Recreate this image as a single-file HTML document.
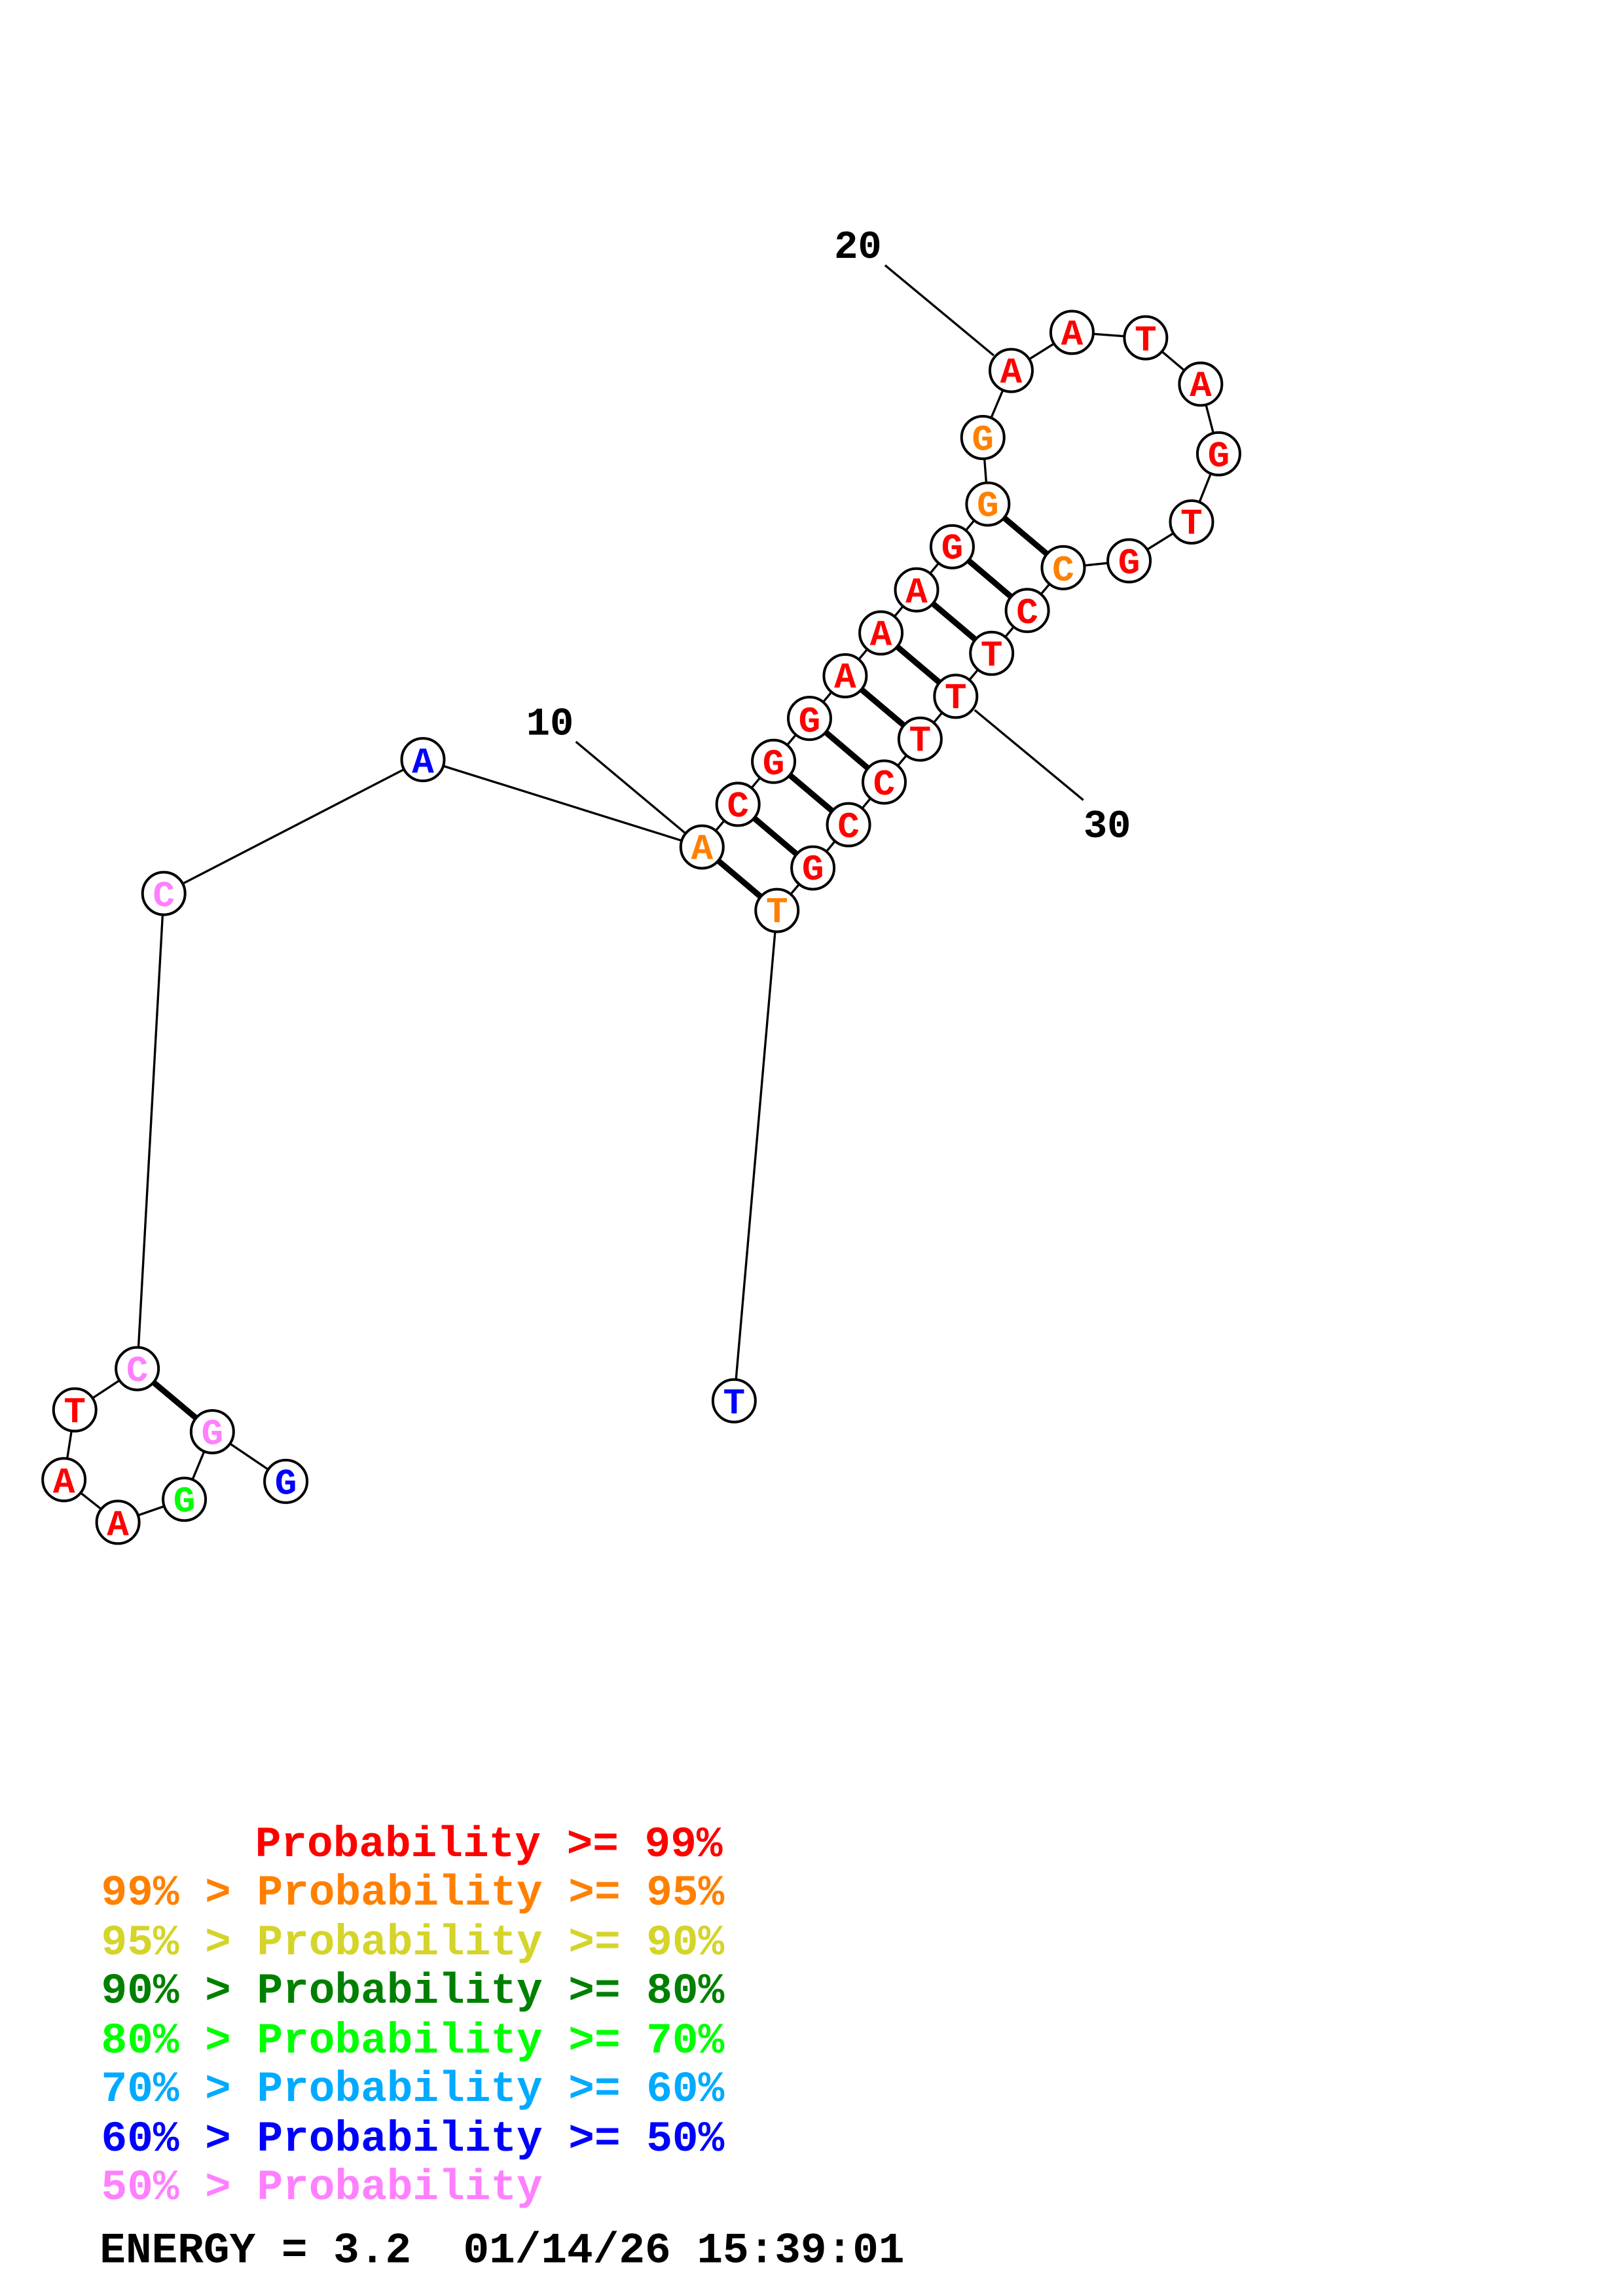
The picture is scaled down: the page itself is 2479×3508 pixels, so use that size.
<!DOCTYPE html>
<html><head><meta charset="utf-8"><style>
html,body{margin:0;padding:0;background:#fff;}
svg{display:block;}
.n{font-family:"Liberation Mono",monospace;font-weight:bold;font-size:25px;text-anchor:middle;}
.lb{font-family:"Liberation Mono",monospace;font-weight:bold;font-size:27px;text-anchor:middle;fill:#000;}
.lg{font-family:"Liberation Mono",monospace;font-weight:bold;font-size:29.5px;white-space:pre;}
</style></head><body>
<svg width="2479" height="3508" viewBox="0 0 1106.7 1566" preserveAspectRatio="none" xmlns="http://www.w3.org/2000/svg">
<rect width="1106.7" height="1566" fill="#fff"/>
<polyline fill="none" stroke="#000" stroke-width="1.5" points="194.9,1010.4 144.8,976.5 125.7,1022.6 80.4,1038.3 43.6,1009.2 51.0,961.6 93.6,933.5 111.7,609.4 288.4,518.1 478.7,577.7 503.2,548.6 527.5,519.3 552,490 576.3,460.9 600.7,431.7 625,402.3 649.3,372.9 673.6,343.8 670.2,298.4 689.5,252.7 731.0,226.7 781.2,230.4 818.7,262.0 831.0,309.5 812.5,356.0 769.9,382.5 725,387.2 700.5,416.4 676.2,445.6 651.7,474.9 627.4,504.1 602.9,533.4 578.6,562.5 554.3,592 529.8,621 500.6,955.4"/>
<g stroke="#000" stroke-width="4">
<line x1="93.6" y1="933.5" x2="144.8" y2="976.5"/>
<line x1="478.7" y1="577.7" x2="529.8" y2="621"/>
<line x1="503.2" y1="548.6" x2="554.3" y2="592"/>
<line x1="527.5" y1="519.3" x2="578.6" y2="562.5"/>
<line x1="552" y1="490" x2="602.9" y2="533.4"/>
<line x1="576.3" y1="460.9" x2="627.4" y2="504.1"/>
<line x1="600.7" y1="431.7" x2="651.7" y2="474.9"/>
<line x1="625" y1="402.3" x2="676.2" y2="445.6"/>
<line x1="649.3" y1="372.9" x2="700.5" y2="416.4"/>
<line x1="673.6" y1="343.8" x2="725" y2="387.2"/>
</g>
<g stroke="#000" stroke-width="1.5">
<line x1="392.7" y1="505.9" x2="467.2" y2="568.2"/>
<line x1="603.5" y1="180.9" x2="677.6" y2="242.4"/>
<line x1="664.6" y1="484.3" x2="738.7" y2="545.7"/>
</g>
<text class="lb" x="375" y="501">10</text>
<text class="lb" x="585" y="176">20</text>
<text class="lb" x="755" y="571">30</text>
<g fill="#fff" stroke="#000" stroke-width="1.8">
<circle cx="194.9" cy="1010.4" r="14.5"/><circle cx="144.8" cy="976.5" r="14.5"/><circle cx="125.7" cy="1022.6" r="14.5"/><circle cx="80.4" cy="1038.3" r="14.5"/><circle cx="43.6" cy="1009.2" r="14.5"/><circle cx="51.0" cy="961.6" r="14.5"/><circle cx="93.6" cy="933.5" r="14.5"/><circle cx="111.7" cy="609.4" r="14.5"/><circle cx="288.4" cy="518.1" r="14.5"/><circle cx="478.7" cy="577.7" r="14.5"/><circle cx="503.2" cy="548.6" r="14.5"/><circle cx="527.5" cy="519.3" r="14.5"/><circle cx="552" cy="490" r="14.5"/><circle cx="576.3" cy="460.9" r="14.5"/><circle cx="600.7" cy="431.7" r="14.5"/><circle cx="625" cy="402.3" r="14.5"/><circle cx="649.3" cy="372.9" r="14.5"/><circle cx="673.6" cy="343.8" r="14.5"/><circle cx="670.2" cy="298.4" r="14.5"/><circle cx="689.5" cy="252.7" r="14.5"/><circle cx="731.0" cy="226.7" r="14.5"/><circle cx="781.2" cy="230.4" r="14.5"/><circle cx="818.7" cy="262.0" r="14.5"/><circle cx="831.0" cy="309.5" r="14.5"/><circle cx="812.5" cy="356.0" r="14.5"/><circle cx="769.9" cy="382.5" r="14.5"/><circle cx="725" cy="387.2" r="14.5"/><circle cx="700.5" cy="416.4" r="14.5"/><circle cx="676.2" cy="445.6" r="14.5"/><circle cx="651.7" cy="474.9" r="14.5"/><circle cx="627.4" cy="504.1" r="14.5"/><circle cx="602.9" cy="533.4" r="14.5"/><circle cx="578.6" cy="562.5" r="14.5"/><circle cx="554.3" cy="592" r="14.5"/><circle cx="529.8" cy="621" r="14.5"/><circle cx="500.6" cy="955.4" r="14.5"/>
</g>
<g class="n">
<text x="194.9" y="1019" fill="#0000ff">G</text>
<text x="144.8" y="985" fill="#ff80ff">G</text>
<text x="125.7" y="1031" fill="#00ff00">G</text>
<text x="80.4" y="1047" fill="#ff0000">A</text>
<text x="43.6" y="1018" fill="#ff0000">A</text>
<text x="51.0" y="970" fill="#ff0000">T</text>
<text x="93.6" y="942" fill="#ff80ff">C</text>
<text x="111.7" y="618" fill="#ff80ff">C</text>
<text x="288.4" y="527" fill="#0000ff">A</text>
<text x="478.7" y="586" fill="#ff8000">A</text>
<text x="503.2" y="557" fill="#ff0000">C</text>
<text x="527.5" y="528" fill="#ff0000">G</text>
<text x="552" y="499" fill="#ff0000">G</text>
<text x="576.3" y="469" fill="#ff0000">A</text>
<text x="600.7" y="440" fill="#ff0000">A</text>
<text x="625" y="411" fill="#ff0000">A</text>
<text x="649.3" y="381" fill="#ff0000">G</text>
<text x="673.6" y="352" fill="#ff8000">G</text>
<text x="670.2" y="307" fill="#ff8000">G</text>
<text x="689.5" y="261" fill="#ff0000">A</text>
<text x="731.0" y="235" fill="#ff0000">A</text>
<text x="781.2" y="239" fill="#ff0000">T</text>
<text x="818.7" y="270" fill="#ff0000">A</text>
<text x="831.0" y="318" fill="#ff0000">G</text>
<text x="812.5" y="364" fill="#ff0000">T</text>
<text x="769.9" y="391" fill="#ff0000">G</text>
<text x="725" y="396" fill="#ff8000">C</text>
<text x="700.5" y="425" fill="#ff0000">C</text>
<text x="676.2" y="454" fill="#ff0000">T</text>
<text x="651.7" y="483" fill="#ff0000">T</text>
<text x="627.4" y="512" fill="#ff0000">T</text>
<text x="602.9" y="542" fill="#ff0000">C</text>
<text x="578.6" y="571" fill="#ff0000">C</text>
<text x="554.3" y="600" fill="#ff0000">G</text>
<text x="529.8" y="629" fill="#ff8000">T</text>
<text x="500.6" y="964" fill="#0000ff">T</text>
</g>
<g class="lg">
<text x="174" y="1266" fill="#ff0000">Probability &gt;= 99%</text>
<text x="69" y="1299" fill="#ff8000">99% &gt; Probability &gt;= 95%</text>
<text x="69" y="1333" fill="#d4d42a">95% &gt; Probability &gt;= 90%</text>
<text x="69" y="1366" fill="#008000">90% &gt; Probability &gt;= 80%</text>
<text x="69" y="1400" fill="#00ff00">80% &gt; Probability &gt;= 70%</text>
<text x="69" y="1433" fill="#00aaff">70% &gt; Probability &gt;= 60%</text>
<text x="69" y="1467" fill="#0000ff">60% &gt; Probability &gt;= 50%</text>
<text x="69" y="1500" fill="#ff80ff">50% &gt; Probability</text>
<text x="68" y="1543" fill="#000">ENERGY = 3.2&#160;&#160;01/14/26 15:39:01</text>
</g>
</svg>
</body></html>
